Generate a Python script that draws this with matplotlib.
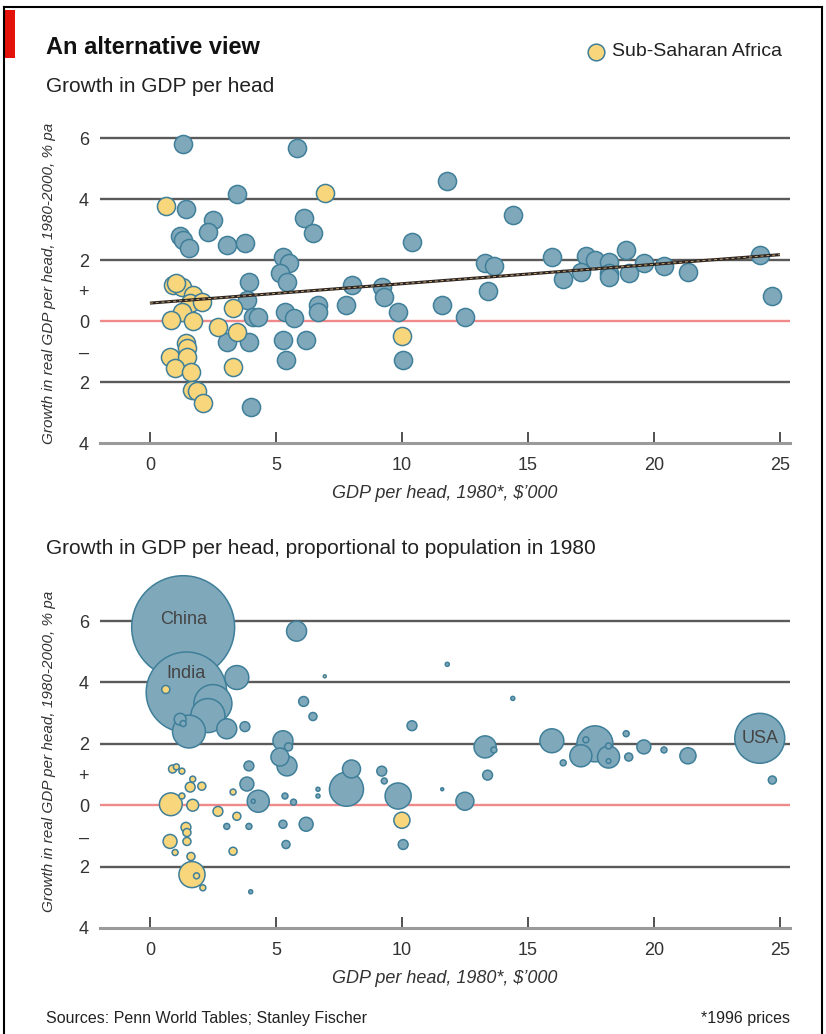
import numpy as np
import matplotlib.pyplot as plt
from matplotlib.patches import Rectangle
from matplotlib.lines import Line2D

plt.rcParams['font.family'] = ['Liberation Sans Narrow', 'Liberation Sans', 'DejaVu Sans']

# ---------------------------- DATA ------------------------------------------
# GDP per head 1980 ($'000), growth 1980-2000 (% pa), population 1980 (m)
blue_gdp = [1.32, 1.45, 5.82, 11.8, 3.45, 14.4, 6.1, 2.5, 2.3, 6.47,
            1.2, 1.32, 1.55, 3.05, 3.77, 5.28, 5.5, 5.16, 5.44, 3.93,
            3.85, 4.1, 4.3, 5.36, 5.7, 6.67, 6.67, 7.8, 8.0, 9.2,
            9.3, 9.85, 11.6, 12.5, 3.05, 3.93, 5.28, 6.2, 5.4, 4.0,
            10.4, 13.3, 13.65, 13.4, 15.95, 16.4, 17.3, 17.1, 17.66, 18.2,
            18.2, 18.2, 18.9, 19.0, 19.6, 20.4, 21.35, 24.2, 24.7, 10.05]
blue_growth = [5.8, 3.68, 5.67, 4.59, 4.16, 3.48, 3.38, 3.31, 2.92, 2.89,
               2.8, 2.66, 2.4, 2.49, 2.56, 2.1, 1.9, 1.57, 1.28, 1.28,
               0.69, 0.13, 0.13, 0.3, 0.1, 0.52, 0.3, 0.52, 1.18, 1.11,
               0.79, 0.3, 0.52, 0.13, -0.69, -0.69, -0.62, -0.62, -1.28, -2.82,
               2.59, 1.9, 1.8, 0.98, 2.1, 1.38, 2.13, 1.61, 2.0, 1.93,
               1.57, 1.44, 2.33, 1.57, 1.9, 1.8, 1.61, 2.18, 0.82, -1.28]
blue_pop = [981, 600, 37, 1.5, 53, 1.5, 9, 134, 107, 6,
            13, 3.3, 100, 37, 9, 37, 6, 30, 37, 9,
            18, 1.5, 45, 3.3, 3.3, 1.5, 1.5, 107, 30, 9,
            3.3, 63, 0.8, 30, 3.3, 3.3, 6, 18, 6, 1.5,
            9, 45, 3.3, 9, 53, 3.3, 3.3, 45, 120, 3.3,
            45, 2, 3.3, 6, 18, 3.3, 24, 231, 6, 9]

africa_gdp = [0.63, 6.94, 3.3, 0.9, 1.27, 1.05, 1.7, 1.6, 2.06, 1.27,
              0.83, 1.7, 2.7, 3.45, 3.3, 1.43, 1.47, 0.8, 1.47, 1.0,
              1.63, 1.67, 1.85, 2.1, 10.0]
africa_growth = [3.77, 4.2, 0.43, 1.18, 1.11, 1.25, 0.85, 0.59, 0.62, 0.3,
                 0.03, 0.0, -0.2, -0.36, -1.5, -0.72, -0.89, -1.18, -1.18, -1.54,
                 -1.67, -2.26, -2.3, -2.69, -0.49]
africa_pop = [6, 0.8, 3.3, 6, 3.3, 3.3, 3.3, 9, 6, 3.3,
              48, 13, 9, 6, 6, 9, 6, 18, 6, 3.3,
              6, 63, 3.3, 3.3, 24]

labels = {"China": (1.32, 5.8), "India": (1.45, 3.68), "USA": (24.2, 2.18)}
label_offsets = {"China": 0.25, "India": 0.6, "USA": 0.0}

trend_x = [0, 25]
trend_y = [0.59, 2.18]

xticks = [0, 5, 10, 15, 20, 25]
yticks = [6, 4, 2, 1, 0, -1, -2, -4]
ytick_labels = ["6", "4", "2", "+", "0", "\u2013", "2", "4"]
# ---------------------------------------------------------------------------

BLUE = "#7fa8bb"
YELLOW = "#f8d67c"
EDGE = "#3f7f99"
GRID = "#5a5a5a"

fig = plt.figure(figsize=(8.26, 10.34), dpi=100)
W, H = 826, 1034


def fx(px):
    return px / W


def fy(py):
    return 1 - py / H


def style_axes(ax, ymax):
    ax.set_xlim(-1.98, 25.4)
    ax.set_ylim(-4, ymax)
    for s in ["top", "right", "left"]:
        ax.spines[s].set_visible(False)
    ax.spines["bottom"].set_color("#9a9a9a")
    ax.spines["bottom"].set_linewidth(2.2)
    for g in [6, 4, 2, -2]:
        ax.axhline(g, color=GRID, lw=1.7, zorder=1)
    ax.axhline(0, color="#f08a8a", lw=1.7, zorder=1)
    ax.set_xticks(xticks)
    ax.set_xticklabels([str(t) for t in xticks])
    ax.tick_params(axis="x", direction="in", length=8, width=1.2, color="#333333",
                   labelsize=13, labelcolor="#333333", pad=10)
    ax.set_yticks(yticks)
    ax.set_yticklabels(ytick_labels)
    ax.tick_params(axis="y", length=0, labelsize=13, labelcolor="#333333", pad=8)
    ax.set_xlabel("GDP per head, 1980*, $\u2019000", fontsize=13, style="italic",
                  color="#333333", labelpad=8)
    ax.set_ylabel("Growth in real GDP per head, 1980-2000, % pa", fontsize=11,
                  style="italic", color="#333333", labelpad=16)
    ax.set_facecolor("none")


# ---- top chart: equal sized dots
ax1 = fig.add_axes([fx(100), fy(443), fx(690), 320 / H])
style_axes(ax1, 6.5)
ax1.scatter(blue_gdp, blue_growth, s=170, c=BLUE, edgecolors=EDGE, linewidths=1.1,
            zorder=3, clip_on=False)
ax1.scatter(africa_gdp, africa_growth, s=170, c=YELLOW, edgecolors=EDGE, linewidths=1.1,
            zorder=3, clip_on=False)
ax1.plot(trend_x, trend_y, color="#2e2622", lw=2.2, zorder=4, solid_capstyle="butt")
ax1.plot(trend_x, trend_y, color="#c8a878", lw=0.7, ls=(0, (3, 3)), zorder=5)

# ---- bottom chart: area proportional to population
ax2 = fig.add_axes([fx(100), fy(928), fx(690), 353 / H])
style_axes(ax2, 7.5)
size_k = 5.6  # points^2 per million people
all_gdp = np.array(blue_gdp + africa_gdp)
all_growth = np.array(blue_growth + africa_growth)
all_pop = np.array(blue_pop + africa_pop)
all_col = np.array([BLUE] * len(blue_gdp) + [YELLOW] * len(africa_gdp))
order = np.argsort(-all_pop)
ax2.scatter(all_gdp[order], all_growth[order], s=all_pop[order] * size_k,
            c=all_col[order], edgecolors=EDGE, linewidths=1.1, zorder=3, clip_on=False)
for name, (gx, gy) in labels.items():
    ax2.text(gx, gy + label_offsets[name], name, ha="center", va="center",
             fontsize=13, color="#444444", zorder=6)

# ---- titles, legend, notes
fig.add_artist(Rectangle((fx(5), fy(58)), fx(10), 48 / H, color="#e3120b",
                         transform=fig.transFigure, lw=0))
fig.add_artist(Line2D([fx(4), fx(4)], [0, fy(7)], color="black", lw=1.5))
fig.add_artist(Line2D([fx(4), fx(822)], [fy(7), fy(7)], color="black", lw=1.5))
fig.add_artist(Line2D([fx(822), fx(822)], [0, fy(7)], color="black", lw=1.5))

fig.text(fx(46), fy(47), "An alternative view", fontsize=17, fontweight="bold",
         color="#111111", va="center")
fig.text(fx(46), fy(87), "Growth in GDP per head", fontsize=15, color="#222222",
         va="center")
fig.text(fx(46), fy(549), "Growth in GDP per head, proportional to population in 1980",
         fontsize=15, color="#222222", va="center")
fig.add_artist(Line2D([fx(596)], [fy(52)], marker="o", markersize=12,
                      markerfacecolor=YELLOW, markeredgecolor=EDGE, markeredgewidth=1.1))
fig.text(fx(612), fy(52), "Sub-Saharan Africa", fontsize=14, color="#222222",
         va="center")
fig.text(fx(46), fy(1018), "Sources: Penn World Tables; Stanley Fischer", fontsize=11.5,
         color="#222222", va="center")
fig.text(fx(790), fy(1018), "*1996 prices", fontsize=11.5, color="#222222",
         va="center", ha="right")

fig.savefig("out.png", dpi=100)
